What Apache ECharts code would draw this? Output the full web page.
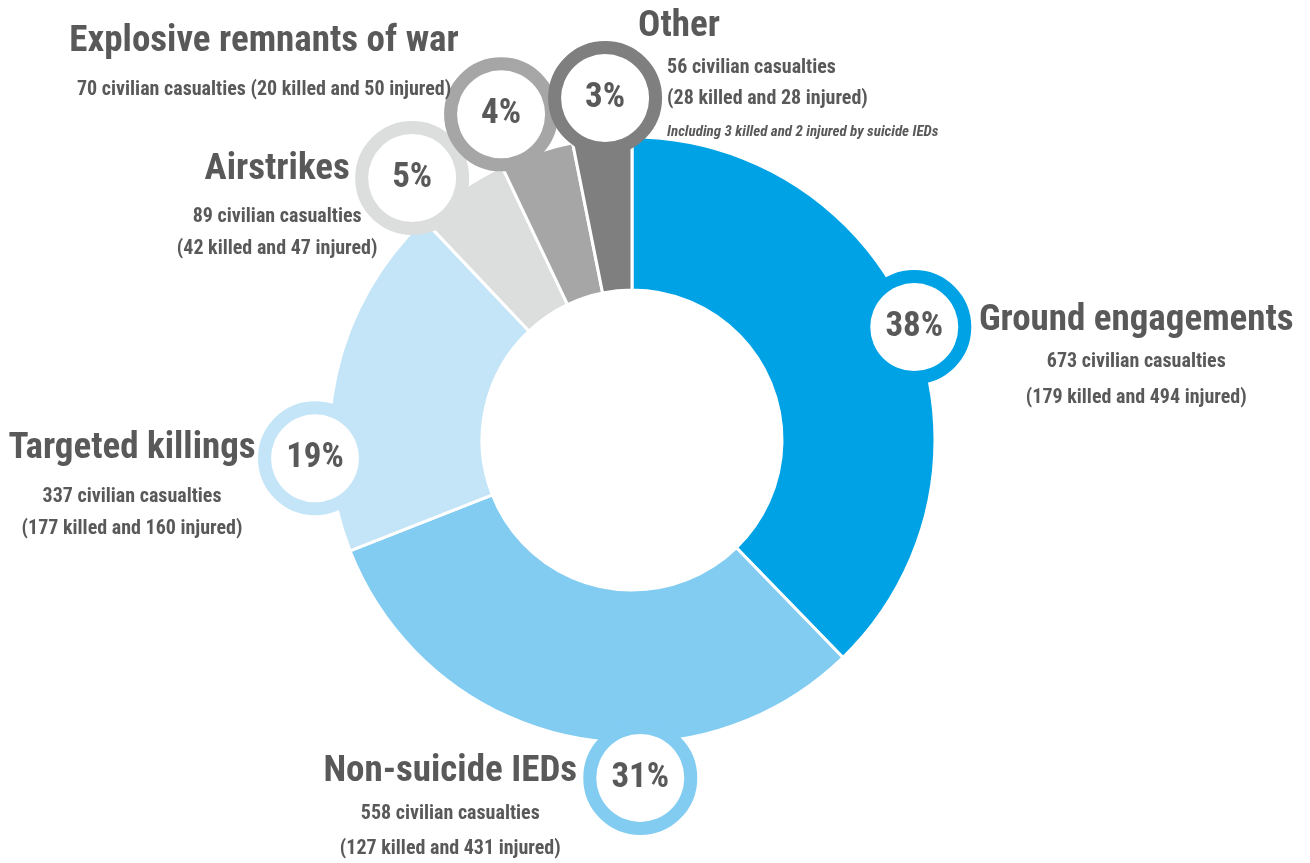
<!DOCTYPE html>
<html><head><meta charset="utf-8">
<script src="https://cdn.jsdelivr.net/npm/echarts@6/dist/echarts.min.js"></script>
<style>html,body{margin:0;padding:0;background:#fff}#main{width:1310px;height:863px}</style>
</head><body><div id="main"></div>
<script>
// ---- data ----
const categories = ['Ground engagements', 'Non-suicide IEDs', 'Targeted killings', 'Airstrikes', 'Explosive remnants of war', 'Other'];
const casualties = [673, 558, 337, 89, 70, 56];
const killed = [179, 127, 177, 42, 20, 28];
const injured = [494, 431, 160, 47, 50, 28];
const footnotes = ['', '', '', '', '', 'Including 3 killed and 2 injured by suicide IEDs'];

// ---- styles / layout ----
const colors = ['#00A2E6', '#82CCF2', '#C4E5F7', '#DCDDDD', '#A6A6A6', '#7F7F7F'];
const TEXT = '#595959';
const FONT = "'Roboto Condensed', 'Open Sans Condensed', 'DejaVu Sans Condensed', sans-serif";
const CX = 632, CY = 440, R_IN = 150, R_OUT = 303;
const badgeAngle = [68.2, 178.6, 266.7, 320, 338.1, 355.5];
const badgeDist = [304, 338, 317.5, 342, 351, 343];
const textLayout = [
  {dx: 222, dy: -31, align: 'center', lt: 48.5, ls: 35.5, oneLine: false, indent: 0},
  {dx: -190, dy: -30.5, align: 'center', lt: 49, ls: 35, oneLine: false, indent: 0},
  {dx: -183, dy: -43, align: 'center', lt: 66, ls: 32, oneLine: false, indent: 0},
  {dx: -135, dy: -39, align: 'center', lt: 62, ls: 32, oneLine: false, indent: 0},
  {dx: -237, dy: -106, align: 'center', lt: 66, ls: 32, oneLine: true, indent: 0},
  {dx: 33, dy: -96, align: 'left', lt: 50, ls: 31, oneLine: false, indent: 29}
];

function badgePos(i) {
  const a = badgeAngle[i] * Math.PI / 180;
  return [CX + badgeDist[i] * Math.sin(a), CY - badgeDist[i] * Math.cos(a)];
}

const badgeData = categories.map((name, i) => ({
  name, value: casualties[i],
  itemStyle: {color: colors[i]},
  label: {borderColor: colors[i]}
}));

const textData = categories.map((name, i) => {
  const L = textLayout[i];
  const pad = [0, 0, 0, L.indent];
  return {
    name, value: casualties[i],
    label: {
      align: L.align,
      rich: {
        t: {fontFamily: FONT, fontWeight: 'bold', fontSize: 37, color: TEXT, lineHeight: L.lt},
        s: {fontFamily: FONT, fontWeight: 'bold', fontSize: 20, color: TEXT, lineHeight: L.ls, padding: pad},
        n: {fontFamily: FONT, fontStyle: 'italic', fontWeight: 'bold', fontSize: 15, color: TEXT, lineHeight: 36, padding: pad}
      }
    }
  };
});

const chart = echarts.init(document.getElementById('main'), null, {renderer: 'canvas'});
chart.setOption({
  animation: false,
  backgroundColor: '#fff',
  series: [
    {
      type: 'pie',
      center: [CX, CY],
      radius: [R_IN, R_OUT],
      startAngle: 90,
      clockwise: true,
      avoidLabelOverlap: false,
      percentPrecision: 0,
      silent: true,
      itemStyle: {borderColor: '#fff', borderWidth: 3},
      labelLine: {show: false},
      label: {
        show: true,
        position: 'outside',
        formatter: '{d}%',
        fontFamily: FONT, fontWeight: 'bold', fontSize: 35, color: TEXT,
        backgroundColor: '#fff', borderWidth: 13, borderRadius: 45,
        width: 88, height: 88, lineHeight: 88, align: 'center', verticalAlign: 'middle'
      },
      labelLayout: function (p) {
        const b = badgePos(p.dataIndex);
        return {x: b[0], y: b[1], align: 'center', verticalAlign: 'middle'};
      },
      data: badgeData,
      z: 2
    },
    {
      type: 'pie',
      center: [CX, CY],
      radius: [R_IN, R_OUT],
      startAngle: 90,
      clockwise: true,
      avoidLabelOverlap: false,
      silent: true,
      itemStyle: {color: 'rgba(0,0,0,0)'},
      labelLine: {show: false},
      label: {
        show: true,
        position: 'outside',
        formatter: function (p) {
          const i = p.dataIndex, L = textLayout[i];
          const lines = ['{t|' + categories[i] + '}'];
          if (L.oneLine) {
            lines.push('{s|' + casualties[i] + ' civilian casualties (' + killed[i] + ' killed and ' + injured[i] + ' injured)}');
          } else {
            lines.push('{s|' + casualties[i] + ' civilian casualties}');
            lines.push('{s|(' + killed[i] + ' killed and ' + injured[i] + ' injured)}');
          }
          if (footnotes[i]) lines.push('{n|' + footnotes[i] + '}');
          return lines.join('\n');
        }
      },
      labelLayout: function (p) {
        const i = p.dataIndex, b = badgePos(i), L = textLayout[i];
        return {x: b[0] + L.dx, y: b[1] + L.dy, align: L.align, verticalAlign: 'top'};
      },
      data: textData,
      z: 3
    }
  ]
});
</script>
</body></html>
